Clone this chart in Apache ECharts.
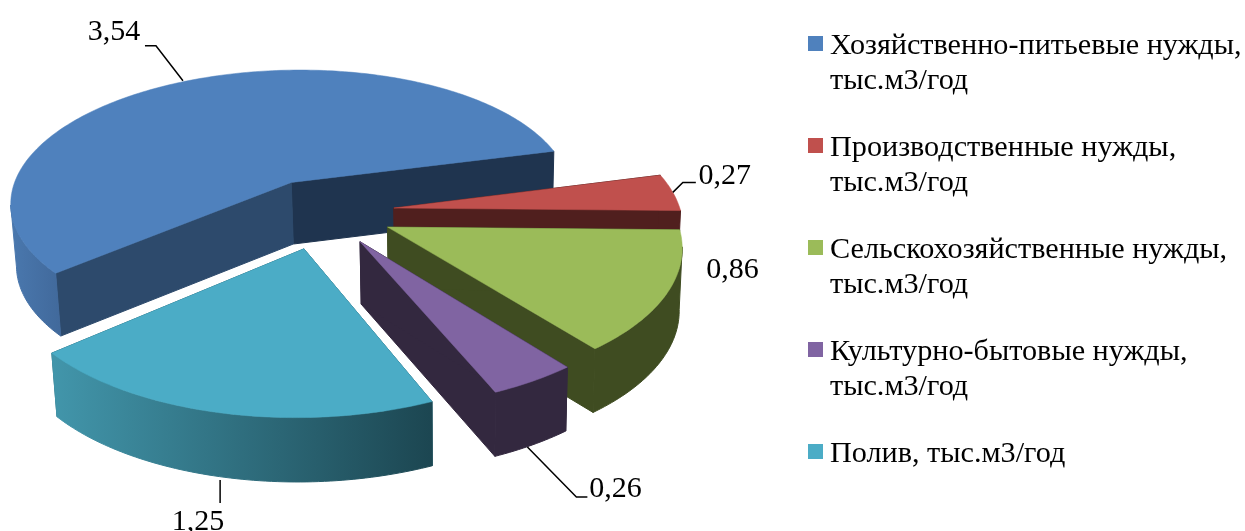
<!DOCTYPE html>
<html><head><meta charset="utf-8">
<script src="https://cdn.jsdelivr.net/npm/echarts@6/dist/echarts.min.js"></script>
<style>html,body{margin:0;padding:0;background:#fff}#c{width:1245px;height:531px}</style></head>
<body><div id="c"></div>
<script>
const categories = ['Хозяйственно-питьевые нужды, тыс.м3/год','Производственные нужды, тыс.м3/год','Сельскохозяйственные нужды, тыс.м3/год','Культурно-бытовые нужды, тыс.м3/год','Полив, тыс.м3/год'];
const values = [3.54, 0.27, 0.86, 0.26, 1.25];
const topColors = ['#4f81bd','#c0504d','#9bbb59','#8064a2','#4bacc6'];
const startWallColors = ['#1f344f','#501f1e','#3f4c21','#33283f','#2a6b7c'];
const endWallColors = ['#2d4a6c','#501f1e','#3f4c21','#33283f','#2a6b7c'];
const outerStops = [['#4a78ae','#41699b'],['#501f1e','#501f1e'],['#3f4c21','#3f4c21'],['#33283f','#33283f'],['#4296ab','#1c4651']];
const explodes = [0.255,0.25,0.25,0.25,0.27];
// leader and label placement relative to each slice's rim anchor
const useBottom = [false,false,false,true,true];
const leaderOffsets = [[[0,-1],[-27,-36],[-38,-36]],[[0,0],[10,-10],[23,-10]],[],[[-5,2],[44,52],[55,52]],[[-2,3],[-2,26]]];
const labelOffsets = [[-69,-50],[52,-16],[65,-22],[83,44],[-24,45]];

const total = values.reduce((a,b)=>a+b,0);
const cx=323, cy=212, R=286, P=135, S=2.5, k=0.135, H=62, vx=450, mFall=0.013, startDeg=219.8;
const rad=d=>d*Math.PI/180;
const slices=[]; let a0=startDeg;
values.forEach((v,i)=>{const sweep=v/total*360; slices.push({from:a0,to:a0-sweep,mid:a0-sweep/2,e:explodes[i]}); a0-=sweep;});
function world(s,deg,r){const ex=s.e*Math.cos(rad(s.mid)), ey=s.e*Math.sin(rad(s.mid));
  return [ex+r*Math.cos(rad(deg)), ey+r*Math.sin(rad(deg))];}
function topPt(p){const w=1+k*p[1]; return [cx+R*p[0]/w, cy-(P*p[1]+S*p[0])/w];}
function lowPt(p){const t=topPt(p); return [t[0]+(vx-t[0])*mFall, t[1]+H*(1-0.03*p[1])];}
function rimAngles(s){const out=[]; const n=Math.ceil(s.from-s.to); for(let j=0;j<=n;j++) out.push(s.from+(s.to-s.from)*j/n); return out;}

function render(i){return function(){
  const s=slices[i], ch=[];
  const apex=world(s,0,0), A=world(s,s.from,1), B=world(s,s.to,1);
  const poly=(pts,fill,lw)=>({type:'polygon',shape:{points:pts},style:{fill:fill,stroke:fill,lineWidth:lw},silent:true});
  ch.push(poly([topPt(apex),topPt(B),lowPt(B),lowPt(apex)],startWallColors[i],1));
  ch.push(poly([topPt(apex),topPt(A),lowPt(A),lowPt(apex)],endWallColors[i],1));
  const vis=rimAngles(s).filter(d=>Math.sin(rad(d))<-0.15).map(d=>world(s,d,1));
  if(vis.length>1){
    const g=new echarts.graphic.LinearGradient(0,0,1,0,[{offset:0,color:outerStops[i][0]},{offset:1,color:outerStops[i][1]}]);
    ch.push(poly(vis.map(topPt).concat(vis.slice().reverse().map(lowPt)),g,1));
  }
  const rim=rimAngles(s).map(d=>topPt(world(s,d,1)));
  ch.push(poly([topPt(apex)].concat(rim),topColors[i],0.5));
  const m=world(s,s.mid,1), an=useBottom[i]?lowPt(m):topPt(m);
  if(leaderOffsets[i].length) ch.push({type:'polyline',shape:{points:leaderOffsets[i].map(o=>[an[0]+o[0],an[1]+o[1]])},style:{stroke:'#000',lineWidth:1.5,fill:null},silent:true});
  ch.push({type:'text',style:{text:String(values[i]).padEnd(4,'0').replace('.',','),x:an[0]+labelOffsets[i][0],y:an[1]+labelOffsets[i][1],font:'30px "Liberation Serif"',fill:'#000',align:'center',verticalAlign:'middle'},silent:true});
  return {type:'group',children:ch};
};}

const chart=echarts.init(document.getElementById('c'),null,{renderer:'canvas'});
chart.setOption({animation:false,backgroundColor:'#fff',
  legend:{orient:'vertical',left:808,top:29,padding:0,itemWidth:15,itemHeight:56,itemGap:32,selectedMode:false,
    icon:'path://M0 0H15V15H0Z M0 56L15 56',
    textStyle:{fontFamily:'Liberation Serif',fontSize:30.2,color:'#000',lineHeight:35,padding:[0,0,0,2]},
    formatter:n=>n.indexOf(', тыс')>=0 && n.length>20 ? n.replace(', тыс',',\nтыс') : n+'\n ',
    data:categories},
  series:categories.map((name,i)=>({type:'custom',name,coordinateSystem:'none',z:2+i,silent:true,
    itemStyle:{color:topColors[i]},data:[values[i]],renderItem:render(i)}))
});
</script></body></html>
